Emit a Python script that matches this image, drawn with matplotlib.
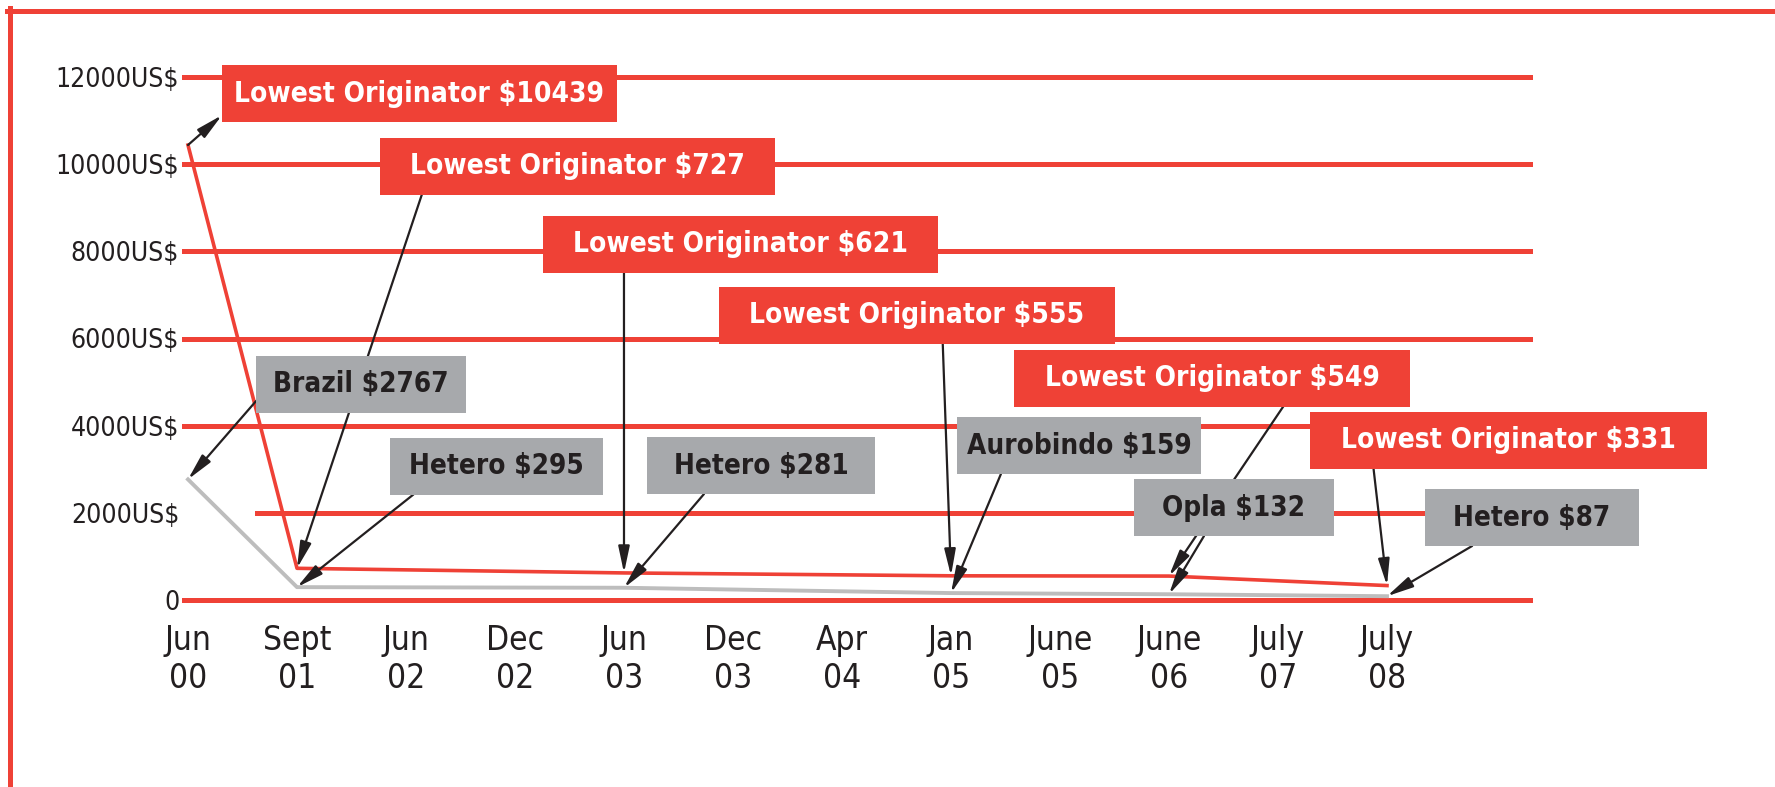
import matplotlib
matplotlib.use("Agg")
import matplotlib.pyplot as plt
from matplotlib import font_manager
from matplotlib.patches import Rectangle
from matplotlib.lines import Line2D

# ---------------- data ----------------
categories = ["Jun\n00", "Sept\n01", "Jun\n02", "Dec\n02", "Jun\n03", "Dec\n03",
              "Apr\n04", "Jan\n05", "June\n05", "June\n06", "July\n07", "July\n08"]
price_dates = ["Jun\n00", "Sept\n01", "Jun\n03", "Jan\n05", "June\n06", "July\n08"]
originator_prices = [10439, 727, 621, 555, 549, 331]
generic_prices = [2767, 295, 281, 159, 132, 87]
generic_sources = ["Brazil", "Hetero", "Hetero", "Aurobindo", "Opla", "Hetero"]
y_ticks = [0, 2000, 4000, 6000, 8000, 10000, 12000]
y_tick_labels = ["0", "2000US$", "4000US$", "6000US$", "8000US$", "10000US$", "12000US$"]

# ---------------- style / layout ----------------
RED = "#EF4136"
GREY_BOX = "#A7A9AC"
GREY_LINE = "#BDBDBD"
DARK = "#231F20"

names = {f.name for f in font_manager.fontManager.ttflist}
if "Liberation Sans Narrow" in names:
    FONT, STRETCH = "Liberation Sans Narrow", "normal"
else:
    FONT, STRETCH = "DejaVu Sans", "condensed"
plt.rcParams["font.family"] = [FONT, "DejaVu Sans"]
plt.rcParams["font.stretch"] = STRETCH

W, H = 1775, 787
fig = plt.figure(figsize=(W / 100, H / 100), dpi=100)
fig.patch.set_facecolor("white")
renderer = fig.canvas.get_renderer()

ax_left, ax_right, ax_top, ax_bottom = 184, 1530, 77, 600
ax = fig.add_axes([ax_left / W, (H - ax_bottom) / H,
                   (ax_right - ax_left) / W, (ax_bottom - ax_top) / H])
x0_px, unit_px = 188, 109
ax.set_xlim((ax_left - x0_px) / unit_px, (ax_right - x0_px) / unit_px)
ax.set_ylim(0, 12000)
px_x = 1 / unit_px                       # data units per pixel (x)
px_y = 12000 / (ax_bottom - ax_top)      # data units per pixel (y)

for s in ax.spines.values():
    s.set_visible(False)

# gridlines
for v in y_ticks:
    xmin = 0.054 if v == 2000 else 0.0
    ax.axhline(v, xmin=xmin, xmax=1, color=RED, lw=3.6, zorder=0, clip_on=False)

ax.set_yticks(y_ticks, y_tick_labels)
ax.tick_params(axis="y", length=0, pad=3.5, labelsize=19, labelcolor=DARK)
ax.set_xticks(range(len(categories)), categories)
ax.tick_params(axis="x", length=0, pad=17, labelsize=24, labelcolor=DARK)
for lab in ax.get_xticklabels():
    lab.set_linespacing(1.2)

# series lines
xi = [categories.index(d) for d in price_dates]
ax.plot(xi, generic_prices, color=GREY_LINE, lw=2.8, zorder=1, clip_on=False)
ax.plot(xi, originator_prices, color=RED, lw=2.6, zorder=2, clip_on=False)

# annotation layout: box centre (px), box width (px), arrow anchor fraction on box
BOX_H = 57
orig_boxes = [((419.5, 93.5), 395, (0.0, 0.12)),
              ((577.5, 166), 395, (0.106, 0.0)),
              ((740.5, 244), 395, (0.205, 0.0)),
              ((917, 315), 396, (0.565, 0.0)),
              ((1212, 378), 396, (0.68, 0.0)),
              ((1508.5, 440), 397, (0.16, 0.0))]
gen_boxes = [((361, 384), 210, (0.0, 0.2)),
             ((496.5, 466), 213, (0.11, 0.0)),
             ((761, 465.5), 228, (0.25, 0.0)),
             ((1079, 445.5), 244, (0.18, 0.0)),
             ((1234, 507.5), 200, (0.35, 0.0)),
             ((1532, 517.5), 214, (0.22, 0.0))]


def fit_size(sample, target_px, base=25):
    t = fig.text(0, 0, sample, fontsize=base, fontweight="bold")
    w = t.get_window_extent(renderer).width
    t.remove()
    return base * target_px / w


RED_FS = fit_size(f"Lowest Originator ${originator_prices[0]}", 370)
GREY_FS = fit_size(f"{generic_sources[0]} ${generic_prices[0]}", 176)


def to_data(px, py):
    return (px - x0_px) / unit_px, (ax_bottom - py) * px_y


arrow_kw = dict(arrowstyle="-|>,head_length=0.8,head_width=0.17", mutation_scale=20,
                color=DARK, lw=1.6, shrinkA=0, shrinkB=0)


def draw_box(label, centre, width, anchor, target, face, tcolor, fs, reverse=False):
    cx, cy = centre
    left, top = cx - width / 2, cy - BOX_H / 2
    bx, by = to_data(left, top + BOX_H)
    ax.add_patch(Rectangle((bx, by), width * px_x, BOX_H * px_y, facecolor=face,
                           edgecolor="none", zorder=4, clip_on=False))
    tx, ty = to_data(cx, cy)
    ax.text(tx, ty, label, ha="center", va="center", color=tcolor, fontsize=fs,
            fontweight="bold", zorder=5, clip_on=False)
    apx = left + anchor[0] * width
    apy = top + BOX_H - anchor[1] * BOX_H
    anc = to_data(apx, apy)
    if reverse:
        ax.annotate("", xy=anc, xytext=target, arrowprops=arrow_kw, zorder=3,
                    annotation_clip=False)
    else:
        ax.annotate("", xy=target, xytext=anc, arrowprops=arrow_kw, zorder=3,
                    annotation_clip=False)


for i, (val, (c, w, a)) in enumerate(zip(originator_prices, orig_boxes)):
    draw_box(f"Lowest Originator ${val}", c, w, a, (xi[i], val), RED, "white",
             RED_FS, reverse=(i == 0))
for i, (val, src, (c, w, a)) in enumerate(zip(generic_prices, generic_sources, gen_boxes)):
    draw_box(f"{src} ${val}", c, w, a, (xi[i], val), GREY_BOX, DARK, GREY_FS)

# page frame (top and left red rules)
fig.add_artist(Line2D([9.5 / W, 9.5 / W], [0, 1 - 8 / H], color=RED, lw=3.6))
fig.add_artist(Line2D([7 / W, 1], [1 - 10.5 / H, 1 - 10.5 / H], color=RED, lw=3.6))

fig.savefig("out.png", dpi=100, facecolor="white")
